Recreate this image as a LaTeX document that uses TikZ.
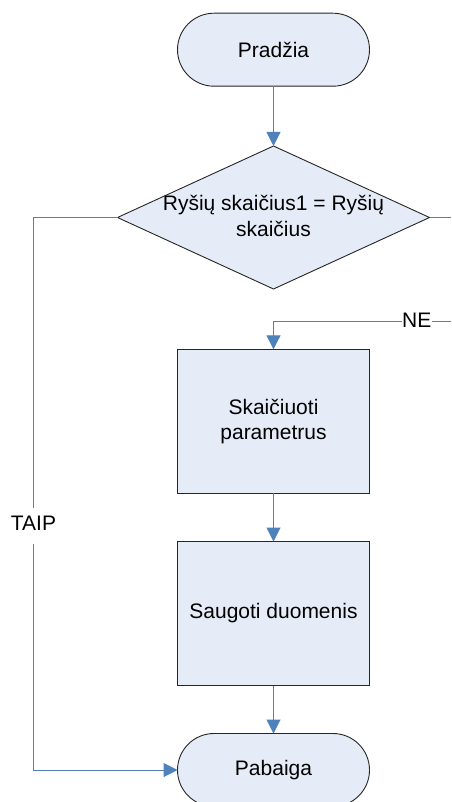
\documentclass[tikz,border=0pt]{standalone}
\usepackage{fontspec}
\setmainfont{Liberation Sans}
\usetikzlibrary{arrows.meta,shapes.geometric}

\definecolor{boxfill}{RGB}{230,236,247}
\definecolor{flowblue}{RGB}{79,129,189}

\tikzset{
  shapebase/.style={draw=black!85, line width=0.9pt, fill=boxfill, inner sep=0pt, outer sep=0pt,
    font=\fontsize{21}{25.5}\selectfont, align=center},
  terminal/.style={shapebase, rectangle, rounded corners=36.5pt, minimum width=192pt, minimum height=73pt},
  process/.style={shapebase, rectangle, minimum width=192pt, minimum height=144pt},
  decision/.style={shapebase, diamond, minimum width=312pt, minimum height=143pt},
  flow/.style={draw=flowblue, line width=1pt},
  flowarrow/.style={flow, -{Triangle[width=14pt,length=14pt]}},
  tag/.style={fill=white, font=\fontsize{21}{25.5}\selectfont, inner xsep=0.5pt}
}

\begin{document}
\begin{tikzpicture}[x=1pt,y=-1pt]
  \clip (0,0) rectangle (451,802);
  \fill[white] (0,0) rectangle (451,802);

  % flowchart blocks
  \node[terminal] (start) at (273.5,49.7) {Pradžia};
  \node[decision] (dec) at (273.5,217.5) {};
  \node[font=\fontsize{21}{25.5}\selectfont, align=center] (decText) at (273.5,216)
    {Ryšių skaičius1 = Ryšių\\skaičius};
  \node[process] (calc) at (273.5,421.3) {Skaičiuoti\\parametrus};
  \node[process] (save) at (273.5,613.5) {Saugoti duomenis};
  \node[terminal] (stop) at (273.5,770) {Pabaiga};

  % corner points of the branch lines
  \coordinate (tl) at (33.5,217.5);
  \coordinate (bl) at (33.5,770);
  \coordinate (outR) at (451,217.5);
  \coordinate (inR) at (451,321);

  % connectors
  \draw[flowarrow] (start) -- (dec);
  \draw[flow] (dec.east) -- (outR);
  \draw[flowarrow] (inR) -| (calc.north);
  \draw[flowarrow] (calc) -- (save);
  \draw[flowarrow] (save) -- (stop);
  \draw[flowarrow] (dec.west) -- (tl) -- (bl) -- (stop.west);

  % branch labels
  \node[tag, text height=15pt, text depth=6pt, inner ysep=7.5pt] (taip) at (33.5,525.5) {TAIP};
  \node[tag, inner ysep=1pt] (ne) at (416.7,320) {NE};
\end{tikzpicture}
\end{document}
